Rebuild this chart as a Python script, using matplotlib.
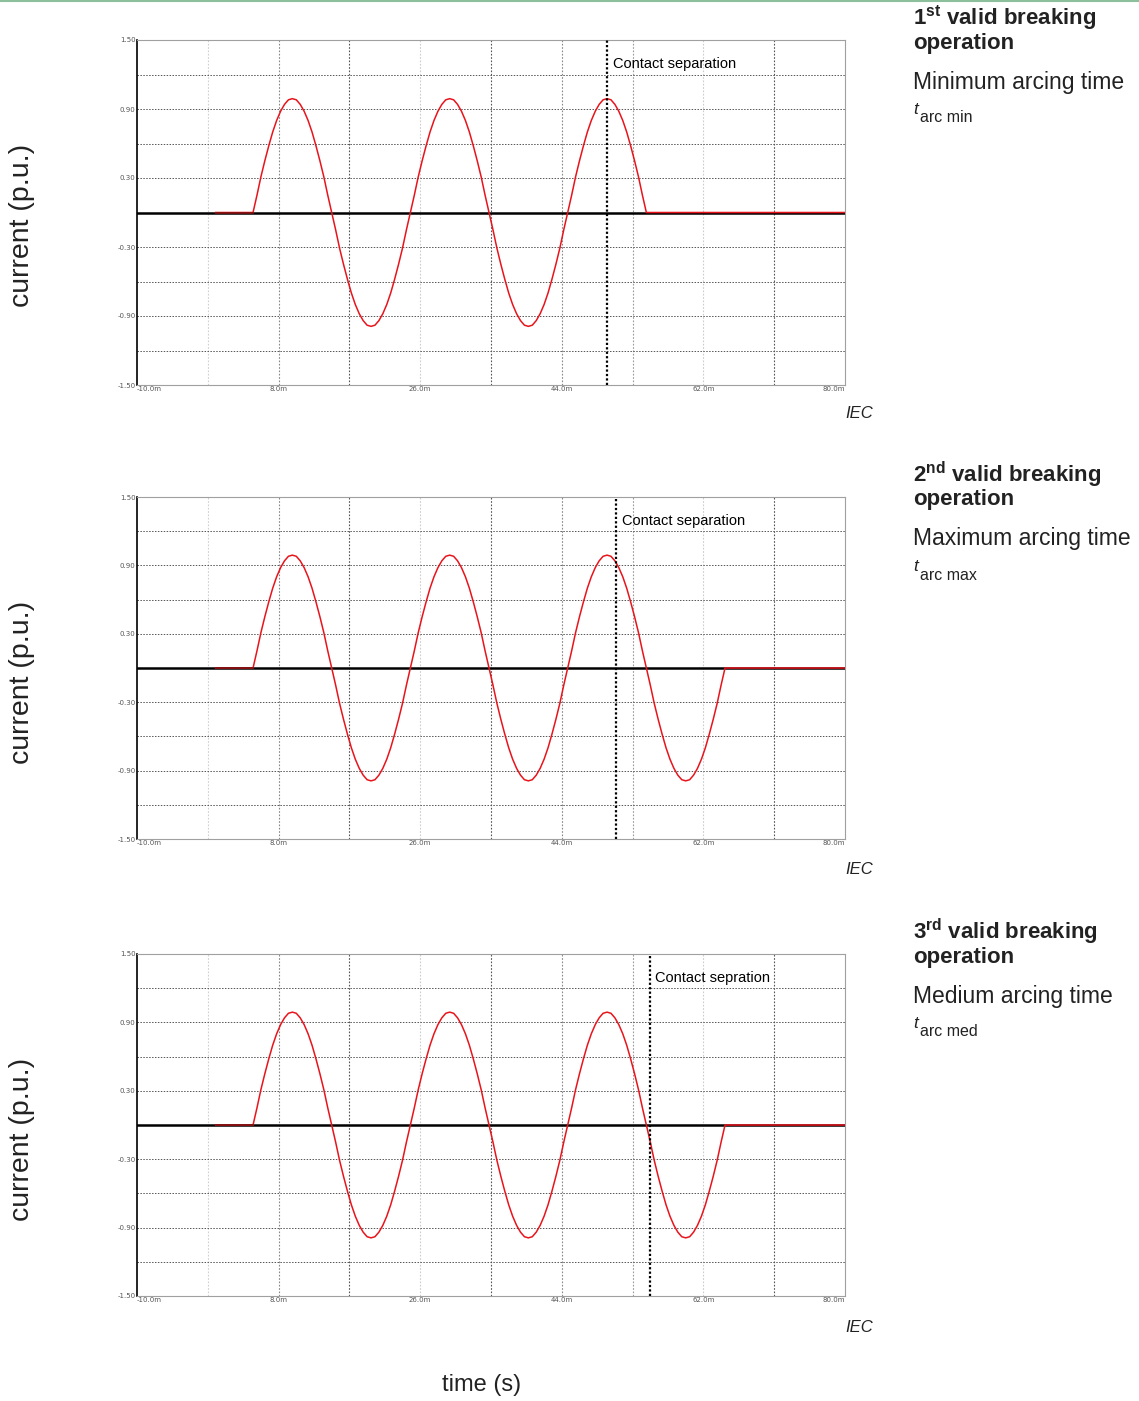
import matplotlib.pyplot as plt
import numpy as np

plt.rcParams["mathtext.fontset"] = "custom"
plt.rcParams["mathtext.rm"] = "Liberation Sans"
plt.rcParams["mathtext.bf"] = "Liberation Sans:bold"
plt.rcParams["mathtext.it"] = "Liberation Sans:italic"

t_start = 4.75
step = 0.5
cycle = [0.00, 0.15, 0.31, 0.45, 0.58, 0.70, 0.80, 0.88, 0.94, 0.98,
         0.99, 0.98, 0.94, 0.88, 0.80, 0.70, 0.58, 0.45, 0.31, 0.15,
         0.00, -0.15, -0.31, -0.45, -0.58, -0.70, -0.80, -0.88, -0.94, -0.98,
         -0.99, -0.98, -0.94, -0.88, -0.80, -0.70, -0.58, -0.45, -0.31, -0.15]
cur_short = cycle * 2 + cycle[:20] + [0.00]   # 2.5 cycles
cur_long = cycle * 3 + [0.00]                 # 3 cycles
currents = [cur_short, cur_long, cur_long]
separation = [49.75, 50.9, 55.2]
sep_labels = ["Contact separation", "Contact separation", "Contact sepration"]
ordinals = ["st", "nd", "rd"]
ord_num = ["1", "2", "3"]
arc_names = ["Minimum arcing time", "Maximum arcing time", "Medium arcing time"]
arc_subs = ["arc min", "arc max", "arc med"]

xticks = [-10, 8, 26, 44, 62, 80]
xtick_labels = ["-10.0m", "8.0m", "26.0m", "44.0m", "62.0m", "80.0m"]
yticks = [1.5, 0.9, 0.3, -0.3, -0.9, -1.5]
ytick_labels = ["1.50", "0.90", "0.30", "-0.30", "-0.90", "-1.50"]
vgrid = [-1, 8, 17, 35, 44, 53, 71]
vgrid_col = ["#d0d0d0", "#888888", "#555555", "#555555", "#888888", "#999999", "#555555"]
vgrid_light = [26, 62]
hgrid = [1.2, 0.9, 0.6, 0.3, -0.3, -0.6, -0.9, -1.2]

W, H = 1139, 1401
fig = plt.figure(figsize=(W / 100, H / 100), dpi=100)
fig.add_artist(plt.Line2D([0, 1], [1 - 1 / H, 1 - 1 / H], color="#8cbf9c", lw=1.5))

tops = [40, 497, 954]
heights = [345, 342, 342]
left, right = 137, 845
for i in range(3):
    top = tops[i]
    h = heights[i]
    ax = fig.add_axes([left / W, 1 - (top + h) / H, (right - left) / W, h / H])
    ax.set_xlim(-10, 80)
    ax.set_ylim(-1.5, 1.5)
    for x, c in zip(vgrid, vgrid_col):
        ax.axvline(x, color=c, lw=0.8, ls=(0, (1.5, 1.5)), zorder=1)
    for x in vgrid_light:
        ax.axvline(x, color="#cccccc", lw=0.8, ls=(0, (1.5, 1.5)), zorder=1)
    for y in hgrid:
        ax.axhline(y, color="#555555", lw=0.7, ls=(0, (1.5, 1.5)), zorder=1)
    ax.axhline(0, color="black", lw=1.8, zorder=3)
    vals = currents[i]
    tt = t_start + step * np.arange(len(vals))
    tt = np.concatenate([[0], tt, [80]])
    vv = np.concatenate([[0], vals, [0]])
    ax.plot(tt, vv, color="#e8141c", lw=1.1, zorder=4)
    ax.plot([0, t_start], [0, 0], color="#7a1010", lw=1.2, zorder=5)
    ax.axvline(separation[i], color="black", lw=1.6, ls=(0, (1, 1)), zorder=6)
    ax.text(separation[i] + 0.7, 1.29, sep_labels[i], fontsize=10.5,
            family="Liberation Sans", va="center", ha="left", zorder=7)
    for s in ["top", "right", "bottom"]:
        ax.spines[s].set_color("#a0a0a0")
    ax.spines["left"].set_color("black")
    ax.spines["left"].set_linewidth(1.2)
    ax.tick_params(length=0, labelsize=5, colors="#555555", pad=1)
    ax.set_xticks(xticks)
    ax.set_xticklabels(xtick_labels)
    ax.get_xticklabels()[0].set_ha("left")
    ax.get_xticklabels()[-1].set_ha("right")
    ax.set_yticks(yticks)
    ax.set_yticklabels(ytick_labels)

    fig.text(22 / W, 1 - (top + 185) / H, "current (p.u.)", rotation=90, fontsize=20.5,
             family="Liberation Sans", color="#222222", ha="center", va="center")
    fig.text(873 / W, 1 - (top + 373) / H, "IEC", fontsize=12, style="italic",
             family="Liberation Sans", color="#222222", ha="right", va="center")

    base = top - 22
    fig.text(913 / W, 1 - base / H,
             r"$\mathbf{%s^{%s}}$ valid breaking" % (ord_num[i], ordinals[i]),
             fontsize=16, weight="bold", family="Liberation Sans", color="#222222",
             ha="left", va="center")
    fig.text(913 / W, 1 - (base + 25) / H, "operation", fontsize=16, weight="bold",
             family="Liberation Sans", color="#222222", ha="left", va="center")
    fig.text(913 / W, 1 - (base + 64) / H, arc_names[i], fontsize=16.5,
             family="Liberation Sans", color="#222222", ha="left", va="center")
    fig.text(913 / W, 1 - (base + 92) / H, "t", fontsize=12.5, style="italic",
             family="Liberation Sans", color="#222222", ha="left", va="center")
    fig.text(920 / W, 1 - (base + 100) / H, arc_subs[i], fontsize=11.5,
             family="Liberation Sans", color="#222222", ha="left", va="center")

fig.text(482 / W, 1 - 1385 / H, "time (s)", fontsize=17, family="Liberation Sans",
         color="#222222", ha="center", va="center")

fig.savefig("out.png", dpi=100)
